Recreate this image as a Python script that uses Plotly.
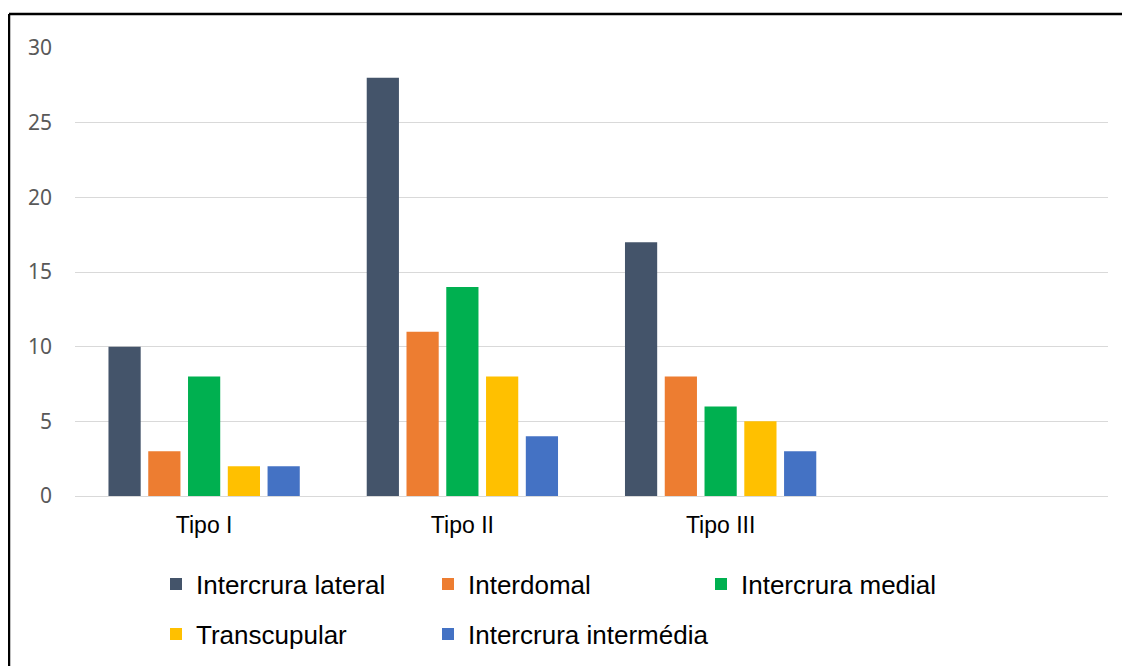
import plotly.graph_objects as go

categories = ["Tipo I", "Tipo II", "Tipo III"]
series_names = ["Intercrura lateral", "Interdomal", "Intercrura medial", "Transcupular", "Intercrura intermédia"]
intercrura_lateral = [10, 28, 17]
interdomal = [3, 11, 8]
intercrura_medial = [8, 14, 6]
transcupular = [2, 8, 5]
intercrura_intermedia = [2, 4, 3]
colors = ["#44546A", "#ED7D31", "#00B050", "#FFC000", "#4472C4"]
y_ticks = [0, 5, 10, 15, 20, 25, 30]

values = [intercrura_lateral, interdomal, intercrura_medial, transcupular, intercrura_intermedia]
legend_ids = ["legend", "legend2", "legend3", "legend4", "legend5"]

fig = go.Figure()
for name, vals, col, lg in zip(series_names, values, colors, legend_ids):
    fig.add_trace(go.Bar(x=categories, y=vals, name=name, marker_color=col,
                         marker_line_width=0, legend=lg))

# page renders figure offset by body margin of 8px
OFF = 8
W, H = 1130 - OFF, 666 - OFF
# desired page coords of plot area: left 75, right 1108, top 48, bottom 496
L, T = 75 - OFF, 48 - OFF
R = W - (1108 - OFF)
B = H - (496 - OFF)
pw, ph = W - L - R, H - T - B

def px_x(x):
    return (x - OFF - L) / pw

def px_y(y):
    return 1 - (y - OFF - T) / ph

legend_font = dict(family="Liberation Sans, Arial", size=26, color="#000000")
# legend item text starts (page px) and row centres
legend_pos = [(197, 584), (469, 584), (742, 584), (197, 634), (469, 634)]

legend_layout = {}
for lg, (tx, ty) in zip(legend_ids, legend_pos):
    legend_layout[lg] = dict(orientation="h", x=px_x(tx - 41), y=px_y(ty),
                             xanchor="left", yanchor="middle", font=legend_font,
                             bgcolor="rgba(0,0,0,0)")

fig.update_layout(
    width=W, height=H,
    margin=dict(l=L, r=R, t=T, b=B, autoexpand=False),
    paper_bgcolor="white", plot_bgcolor="white",
    barmode="group", bargap=0.23, bargroupgap=0.19,
    showlegend=True,
    xaxis=dict(type="category", categoryorder="array", categoryarray=categories,
               range=[-0.5, 3.5], showgrid=False, showline=False, zeroline=False,
               ticks="", ticklabelstandoff=13,
               tickfont=dict(family="Liberation Sans, Arial", size=23, color="#000000")),
    yaxis=dict(range=[0, 30], tickvals=y_ticks, showgrid=True, gridcolor="#D9D9D9",
               gridwidth=1.3, zeroline=True, zerolinecolor="#D9D9D9", zerolinewidth=1.3,
               showline=False, ticks="", ticklabelstandoff=22,
               tickfont=dict(family="Noto Sans, Open Sans", size=21, color="#595959")),
    shapes=[
        dict(type="line", xref="paper", yref="paper", x0=px_x(9), x1=px_x(1150),
             y0=px_y(14), y1=px_y(14), line=dict(color="black", width=2.5)),
        dict(type="line", xref="paper", yref="paper", x0=px_x(9), x1=px_x(9),
             y0=px_y(14), y1=px_y(690), line=dict(color="black", width=2.5)),
    ],
    **legend_layout,
)

fig.write_html("out.html")
